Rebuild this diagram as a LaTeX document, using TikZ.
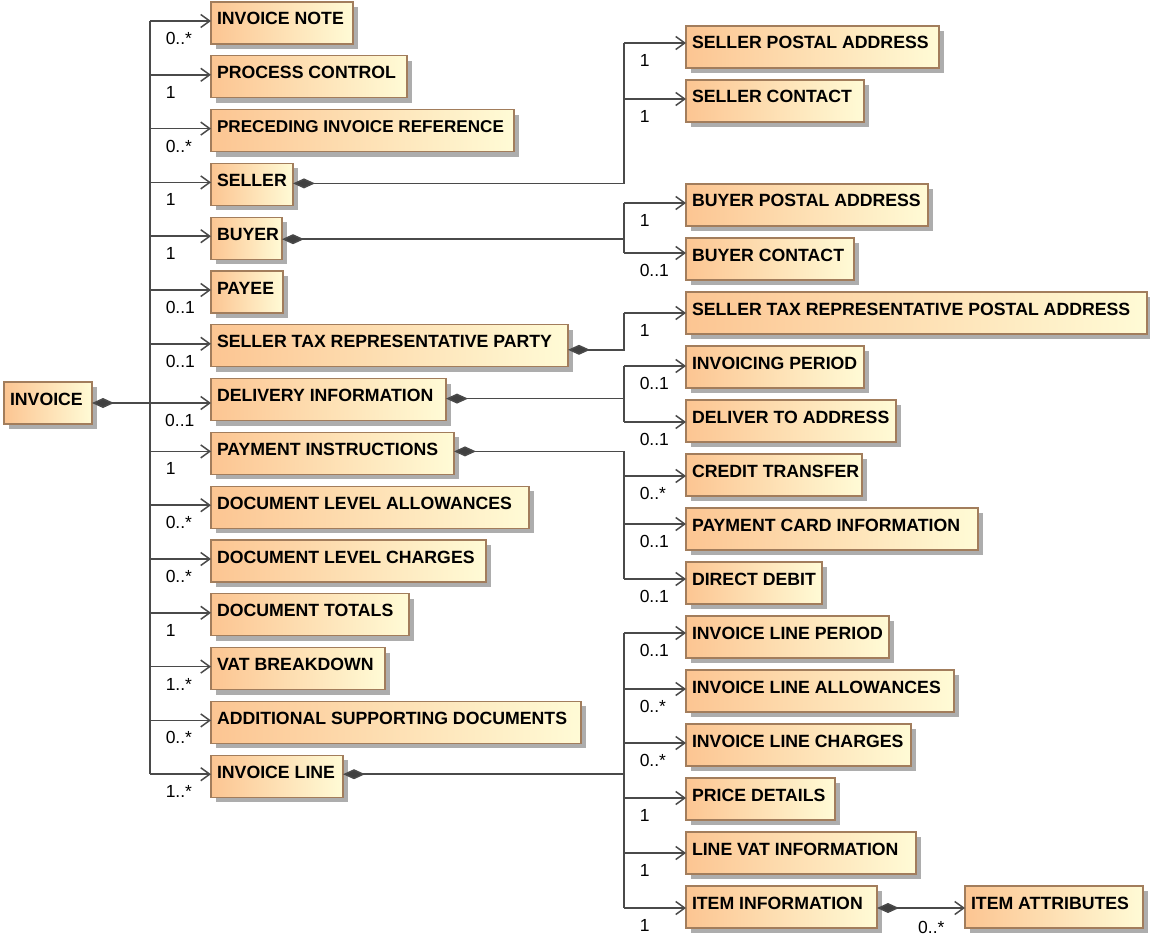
\documentclass[tikz,border=0pt]{standalone}
\usepackage{fontspec}
\setmainfont{Liberation Sans}
\usetikzlibrary{arrows.meta,shadows,calc}
\definecolor{clsL}{HTML}{FCC592}
\definecolor{clsR}{HTML}{FFFBD6}
\definecolor{clsB}{HTML}{A27D5C}
\definecolor{lineC}{HTML}{4A4A4A}
\definecolor{diamC}{HTML}{404040}
\newcommand\cls[5]{\node[clsbox] (#1) at (#2,#3) {\hbox to #4pt{\rule[-19pt]{0pt}{42pt}#5\hss}};}
\newcommand\lbr[3]{\coordinate (#1p) at ([yshift=-#2pt]#1.north west);
  \draw[arr] (#1p -| T) -- (#1p) node[mult, pos=0, xshift=15pt, yshift=-23.5pt] (#1m) {#3};}
\newcommand\rbr[3]{\coordinate (#1p) at ([yshift=-#2pt]#1.north west);
  \draw[arr] (#1p -| J) -- (#1p) node[mult, pos=0, xshift=15pt, yshift=-23.5pt] (#1m) {#3};}
\begin{document}
\begin{tikzpicture}[x=1pt,y=-1pt,
  clsbox/.style={draw=clsB, line width=1.1pt, left color=clsL, right color=clsR,
    inner xsep=6pt, inner ysep=0pt, outer sep=0pt, anchor=north west,
    font=\bfseries\fontsize{17.7pt}{20pt}\selectfont,
    drop shadow={shadow xshift=5pt, shadow yshift=-5pt, fill=black!32, opacity=1}},
  mult/.style={font=\fontsize{17.5pt}{19pt}\selectfont, anchor=base west, inner sep=0pt},
  conn/.style={draw=lineC, line width=1.5pt},
  trunk/.style={draw=lineC, line width=2pt},
  arr/.style={conn, -{Straight Barb[length=9pt,width=13pt]}},
  comp/.style={conn, {Diamond[length=22pt,width=10pt,fill=diamC]}-},
  comparr/.style={conn, {Diamond[length=22pt,width=10pt,fill=diamC]}-{Straight Barb[length=9pt,width=13pt]}}]
\useasboundingbox (0,0) rectangle (1150,936);
\coordinate (T) at (150,0);
\coordinate (J) at (624,0);
% root
\cls{INV}{4}{382}{76}{INVOICE}
% left column
\cls{IN}{211}{2}{130}{INVOICE NOTE}
\cls{PC}{211}{55.8}{184}{PROCESS CONTROL}
\cls{PIR}{211}{109.6}{291}{\fontsize{17.1pt}{20pt}\selectfont PRECEDING INVOICE REFERENCE}
\cls{SEL}{211}{163.4}{70}{SELLER}
\cls{BUY}{211}{217.2}{59}{BUYER}
\cls{PAY}{211}{271}{60}{PAYEE}
\cls{STP}{211}{324.8}{345}{SELLER TAX REPRESENTATIVE PARTY}
\cls{DEL}{211}{378.6}{223}{DELIVERY INFORMATION}
\cls{PI}{211}{432.4}{231}{PAYMENT INSTRUCTIONS}
\cls{DLA}{211}{486.2}{306}{DOCUMENT LEVEL ALLOWANCES}
\cls{DLC}{211}{540}{263}{DOCUMENT LEVEL CHARGES}
\cls{DT}{211}{593.8}{186}{DOCUMENT TOTALS}
\cls{VAT}{211}{647.6}{162}{VAT BREAKDOWN}
\cls{ASD}{211}{701.4}{358}{ADDITIONAL SUPPORTING DOCUMENTS}
\cls{IL}{211}{755.2}{120}{INVOICE LINE}
% right column
\cls{SPA}{686}{26}{241}{SELLER POSTAL ADDRESS}
\cls{SC}{686}{80}{166}{SELLER CONTACT}
\cls{BPA}{686}{184}{230}{BUYER POSTAL ADDRESS}
\cls{BC}{686}{238}{156}{BUYER CONTACT}
\cls{STRPA}{686}{292}{449}{SELLER TAX REPRESENTATIVE POSTAL ADDRESS}
\cls{IP}{686}{346}{166}{INVOICING PERIOD}
\cls{DTA}{686}{400}{198}{DELIVER TO ADDRESS}
\cls{CT}{686}{454}{164}{CREDIT TRANSFER}
\cls{PCI}{686}{508}{280}{PAYMENT CARD INFORMATION}
\cls{DD}{686}{562}{124}{DIRECT DEBIT}
\cls{ILP}{686}{616}{191}{INVOICE LINE PERIOD}
\cls{ILA}{686}{670}{256}{INVOICE LINE ALLOWANCES}
\cls{ILC}{686}{724}{213}{INVOICE LINE CHARGES}
\cls{PD}{686}{778}{137}{PRICE DETAILS}
\cls{LVI}{686}{832}{218}{LINE VAT INFORMATION}
\cls{II}{686}{886}{179}{ITEM INFORMATION}
\cls{IA}{965}{886}{166}{ITEM ATTRIBUTES}
% left branches
\lbr{IN}{19}{0..*}
\lbr{PC}{19}{1}
\lbr{PIR}{19}{0..*}
\lbr{SEL}{19}{1}
\lbr{BUY}{19}{1}
\lbr{PAY}{19}{0..1}
\lbr{STP}{19}{0..1}
\lbr{PI}{19}{1}
\lbr{DLA}{19}{0..*}
\lbr{DLC}{19}{0..*}
\lbr{DT}{19}{1}
\lbr{VAT}{19}{1..*}
\lbr{ASD}{19}{0..*}
\lbr{IL}{19}{1..*}
\draw[trunk] (INp -| T) -- (ILp -| T);
% root to delivery
\coordinate (DELp) at (INV.east -| DEL.west);
\draw[comparr] (INV.east) -- (DELp);
\node[mult] (DELm) at ($(DELp -| T)+(15,23.5)$) {0..1};
% right branches
\rbr{SPA}{17}{1}
\rbr{SC}{19}{1}
\rbr{BPA}{19}{1}
\rbr{BC}{15}{0..1}
\rbr{STRPA}{21}{1}
\rbr{IP}{20}{0..1}
\rbr{DTA}{22}{0..1}
\rbr{CT}{22}{0..*}
\rbr{PCI}{16}{0..1}
\rbr{DD}{17}{0..1}
\rbr{ILP}{17}{0..1}
\rbr{ILA}{19}{0..*}
\rbr{ILC}{19}{0..*}
\rbr{PD}{20}{1}
\rbr{LVI}{21}{1}
\rbr{II}{22}{1}
% composites
\coordinate (SELc) at ([yshift=-20pt]SEL.north east);
\draw[comp] (SELc) -| (SPAp -| J);
\coordinate (BUYc) at ([yshift=-22pt]BUY.north east);
\draw[comp] (BUYc) -| (BPAp -| J);
\draw[conn] (BUYc -| J) -- (BCp -| J);
\coordinate (STPc) at ([yshift=-25pt]STP.north east);
\draw[comp] (STPc) -| (STRPAp -| J);
\coordinate (DELc) at ([yshift=-20pt]DEL.north east);
\draw[comp] (DELc) -| (IPp -| J);
\draw[conn] (DELc -| J) -- (DTAp -| J);
\coordinate (PIc) at ([yshift=-19pt]PI.north east);
\draw[comp] (PIc) -| (DDp -| J);
\coordinate (ILc) at ([yshift=-19pt]IL.north east);
\draw[comp] (ILc) -| (ILPp -| J);
\draw[conn] (ILc -| J) -- (IIp -| J);
\coordinate (IIc) at ([yshift=-22pt]II.north east);
\draw[comparr] (IIc) -- (IIc -| IA.west);
\node[mult] (IAm) at ($(IIc -| IA.west)+(-47,25)$) {0..*};
\end{tikzpicture}
\end{document}
